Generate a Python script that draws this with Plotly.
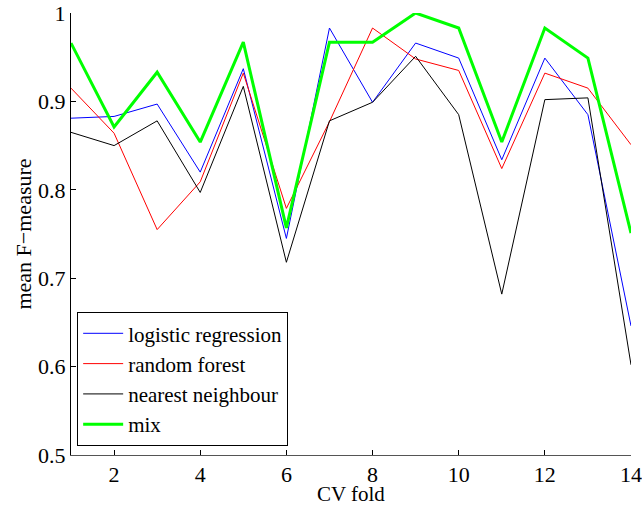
import plotly.graph_objects as go

folds = list(range(1, 15))
logistic_regression = [0.881, 0.883, 0.897, 0.820, 0.937, 0.745, 0.983,
                       0.899, 0.966, 0.949, 0.834, 0.949, 0.885, 0.646]
random_forest = [0.915, 0.864, 0.755, 0.809, 0.932, 0.779, 0.877,
                 0.983, 0.948, 0.935, 0.824, 0.932, 0.915, 0.851]
nearest_neighbour = [0.865, 0.850, 0.878, 0.797, 0.917, 0.718, 0.878,
                     0.899, 0.951, 0.885, 0.682, 0.902, 0.904, 0.602]
mix = [0.966, 0.871, 0.933, 0.854, 0.967, 0.757, 0.967,
       0.967, 1.000, 0.983, 0.854, 0.983, 0.949, 0.751]

x_ticks = [2, 4, 6, 8, 10, 12, 14]
y_ticks = [0.5, 0.6, 0.7, 0.8, 0.9, 1.0]
y_tick_labels = ["0.5", "0.6", "0.7", "0.8", "0.9", "1"]

series = [
    ("logistic regression", logistic_regression, "#0000ff", 1),
    ("random forest", random_forest, "#ff0000", 1),
    ("nearest neighbour", nearest_neighbour, "#000000", 1),
    ("mix", mix, "#00ff00", 3),
]

fig = go.Figure()
for name, values, color, width in series:
    fig.add_trace(go.Scatter(
        x=folds, y=values, mode="lines", name=name,
        line=dict(color=color, width=width),
    ))

serif = "Liberation Serif"

fig.update_layout(
    template="none",
    width=642, height=506,
    margin=dict(l=71, r=11, t=13, b=51),
    paper_bgcolor="white", plot_bgcolor="white",
    font=dict(family=serif, size=22, color="black"),
    showlegend=True,
    legend=dict(
        x=0.011, y=0.02, xanchor="left", yanchor="bottom",
        bgcolor="white", bordercolor="black", borderwidth=1,
        font=dict(family=serif, size=21, color="black"),
        tracegroupgap=0, itemwidth=40,
    ),
    xaxis=dict(
        range=[1, 14], tickvals=x_ticks, ticks="inside", ticklen=5,
        tickcolor="black", showgrid=False, zeroline=False,
        showline=True, linecolor="#555555", linewidth=1,
        automargin=False,
        tickfont=dict(family=serif, size=22),
    ),
    yaxis=dict(
        range=[0.5, 1.0], tickvals=y_ticks, ticktext=y_tick_labels,
        ticks="inside", ticklen=5, tickcolor="black",
        showgrid=False, zeroline=False,
        showline=True, linecolor="black", linewidth=1,
        automargin=False,
        title=dict(text="mean F\u2212measure", standoff=0, font=dict(family=serif, size=22)),
        tickfont=dict(family=serif, size=22),
    ),
)

# x-axis title placed just below the tick labels
fig.add_annotation(
    text="CV fold", xref="paper", yref="paper", x=0.5, y=0,
    xanchor="center", yanchor="top", yshift=-26, borderpad=0, showarrow=False,
    font=dict(family=serif, size=21, color="black"),
)

fig.write_html("out.html")
